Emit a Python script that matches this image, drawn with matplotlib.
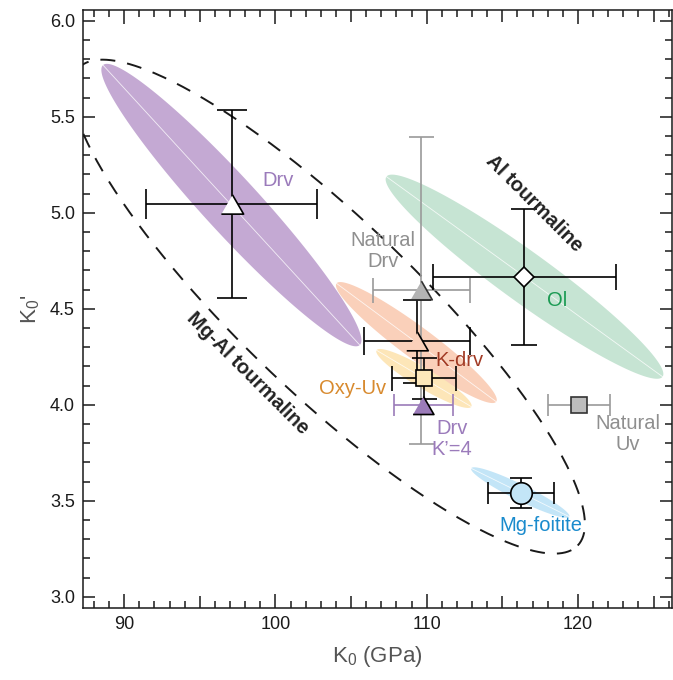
import numpy as np
import matplotlib
matplotlib.use('Agg')
import matplotlib.pyplot as plt
from matplotlib.patches import Polygon
from matplotlib.ticker import MultipleLocator, FuncFormatter

plt.rcParams['font.family'] = ['Liberation Sans', 'DejaVu Sans']
plt.rcParams['mathtext.default'] = 'regular'

# confidence ellipses: centre, major semi-axis (data units), minor/major ratio
ell_names = ['Drv', 'K-drv', 'Oxy-Uv', 'Ol', 'Mg-foitite']
ell_k0 = [97.09, 109.32, 109.82, 116.47, 116.19]
ell_kp = [5.040, 4.324, 4.137, 4.667, 3.543]
ell_dk0 = [8.49, 5.28, 3.135, 9.13, 3.244]
ell_dkp = [-0.729, -0.308, -0.147, -0.521, -0.126]
ell_ratio = [0.147, 0.16, 0.18, 0.147, 0.146]
ell_colors = ['#c4a9d3', '#fad0ba', '#fde6b8', '#c6e4d3', '#c3e5f7']

# Mg-Al tourmaline field (dashed)
field_k0 = 103.50
field_kp = 4.511
field_dk0 = 16.49
field_dkp = -1.244
field_ratio = 0.252

# EoS points
pt_names = ['Natural Drv', 'Drv', 'K-drv', 'Oxy-Uv', "Drv K'=4", 'Ol', 'Mg-foitite', 'Natural Uv']
pt_k0 = [109.65, 97.1, 109.35, 109.83, 109.78, 116.47, 116.22, 120.07]
pt_kp = [4.596, 5.045, 4.33, 4.137, 4.0, 4.667, 3.542, 4.0]
pt_k0_err = [3.2, 5.65, 3.5, 2.1, 1.95, 6.07, 2.18, 2.03]
pt_kp_err = [0.8, 0.49, 0.215, 0.105, 0.0, 0.354, 0.078, 0.0]
pt_marker = ['tri', 'tri', 'tri', 's', 'tri', 'D', 'o', 's']
pt_size = [15.5, 16, 15.5, 12, 15, 10.5, 15.5, 12]
pt_face = ['#b4b4b4', 'white', '#fad0ba', '#fde8ba', '#9b7bb9', 'white', '#c3e5f7', '#bdbdbd']
pt_ecolor = ['#9a9a9a', 'black', 'black', 'black', '#9b7bb9', 'black', 'black', '#9a9a9a']
pt_cap = [9, 11, 10, 9, 8, 9.5, 8, 8]

labels = ['Drv', 'Natural\nDrv', 'Ol', 'K-drv', 'Oxy-Uv', "Drv\nK\u2019=4", 'Natural\nUv', 'Mg-foitite']
lab_k0 = [100.17, 107.1, 118.65, 112.18, 105.08, 111.68, 123.29, 117.57]
lab_kp = [5.17, 4.80, 4.545, 4.233, 4.085, 3.822, 3.847, 3.373]
lab_colors = ['#9b7bbb', '#8f8f8f', '#1a9a52', '#a23b25', '#d88a2e', '#9b7bbb', '#8f8f8f', '#1a8bcd']

fig = plt.figure(figsize=(6.73, 6.80), dpi=100)
ax = fig.add_axes([0.1238, 0.1063, 0.8742, 0.879])
ax.set_xlim(87.3, 126.2)
ax.set_ylim(2.943, 6.056)


def ellipse_pts(cx, cy, dx, dy, ratio, n=240):
    # build the ellipse in display space so the minor axis is truly perpendicular
    T = ax.transData
    c = T.transform((cx, cy))
    u = T.transform((cx + dx, cy + dy)) - c
    v = np.array([-u[1], u[0]]) * ratio
    t = np.linspace(0, 2 * np.pi, n)
    pts = c + np.outer(np.cos(t), u) + np.outer(np.sin(t), v)
    return T.inverted().transform(pts)


for i in range(len(ell_names)):
    pts = ellipse_pts(ell_k0[i], ell_kp[i], ell_dk0[i], ell_dkp[i], ell_ratio[i])
    ax.add_patch(Polygon(pts, closed=True, facecolor=ell_colors[i], edgecolor='none', zorder=1))
    ax.plot([ell_k0[i] - ell_dk0[i], ell_k0[i] + ell_dk0[i]],
            [ell_kp[i] - ell_dkp[i], ell_kp[i] + ell_dkp[i]],
            color='white', lw=0.6, alpha=0.8, zorder=1.5)

fpts = ellipse_pts(field_k0, field_kp, field_dk0, field_dkp, field_ratio, n=400)
ax.plot(fpts[:, 0], fpts[:, 1], color='#1a1a1a', lw=1.4, ls=(0, (7.7, 6.2)), zorder=2)

# equilateral triangle, centred on its bounding box
tri = [(-1, -0.866), (1, -0.866), (0, 0.866)]
for i in range(len(pt_names)):
    yerr = pt_kp_err[i] if pt_kp_err[i] > 0 else None
    z = 3 if pt_ecolor[i] != 'black' and pt_names[i] != "Drv K'=4" else 4
    ax.errorbar(pt_k0[i], pt_kp[i], xerr=pt_k0_err[i], yerr=yerr, fmt='none',
                ecolor=pt_ecolor[i], elinewidth=1.2, capsize=pt_cap[i], capthick=1.2, zorder=z)
for i in range(len(pt_names)):
    mk = tri if pt_marker[i] == 'tri' else pt_marker[i]
    ec = '#333333' if pt_names[i].startswith('Natural') else 'black'
    ax.plot(pt_k0[i], pt_kp[i], marker=mk, ms=pt_size[i], mfc=pt_face[i], mec=ec,
            mew=1.2, ls='none', zorder=5)

for i in range(len(labels)):
    ax.text(lab_k0[i], lab_kp[i], labels[i], color=lab_colors[i], fontsize=14.5,
            ha='center', va='center', linespacing=1.15, zorder=6)

ax.text(117.13, 5.05, 'Al tourmaline', fontsize=14.5, fontweight='bold', color='#222222',
        rotation=-45, rotation_mode='anchor', ha='center', va='center', zorder=6)
ax.text(98.19, 4.165, 'Mg-Al tourmaline', fontsize=14.5, fontweight='bold', color='#222222',
        rotation=-45, rotation_mode='anchor', ha='center', va='center', zorder=6)

ax.set_xlabel('K$_0$ (GPa)', fontsize=16, color='#555555', labelpad=8)
ax.set_ylabel("K$_0$'", fontsize=16, color='#555555', labelpad=6)

ax.xaxis.set_major_locator(MultipleLocator(5))
ax.xaxis.set_minor_locator(MultipleLocator(1))
ax.xaxis.set_major_formatter(FuncFormatter(lambda v, p: '%d' % v if v % 10 == 0 else ''))
ax.yaxis.set_major_locator(MultipleLocator(0.5))
ax.yaxis.set_minor_locator(MultipleLocator(0.1))
ax.yaxis.set_major_formatter(FuncFormatter(lambda v, p: '%.1f' % v))
ax.tick_params(which='both', direction='in', top=True, right=True, width=1.1, colors='#1a1a1a')
ax.tick_params(which='major', length=8.5, labelsize=13, pad=6)
ax.tick_params(which='minor', length=5)
for s in ax.spines.values():
    s.set_linewidth(1.1)
    s.set_color('#1a1a1a')

locs = ax.xaxis.get_majorticklocs()
for t, loc in zip(ax.xaxis.get_major_ticks(len(locs)), locs):
    if loc % 10 == 0:
        t.tick1line.set_markersize(10)
        t.tick2line.set_markersize(10)

fig.savefig('out.png', dpi=100)
